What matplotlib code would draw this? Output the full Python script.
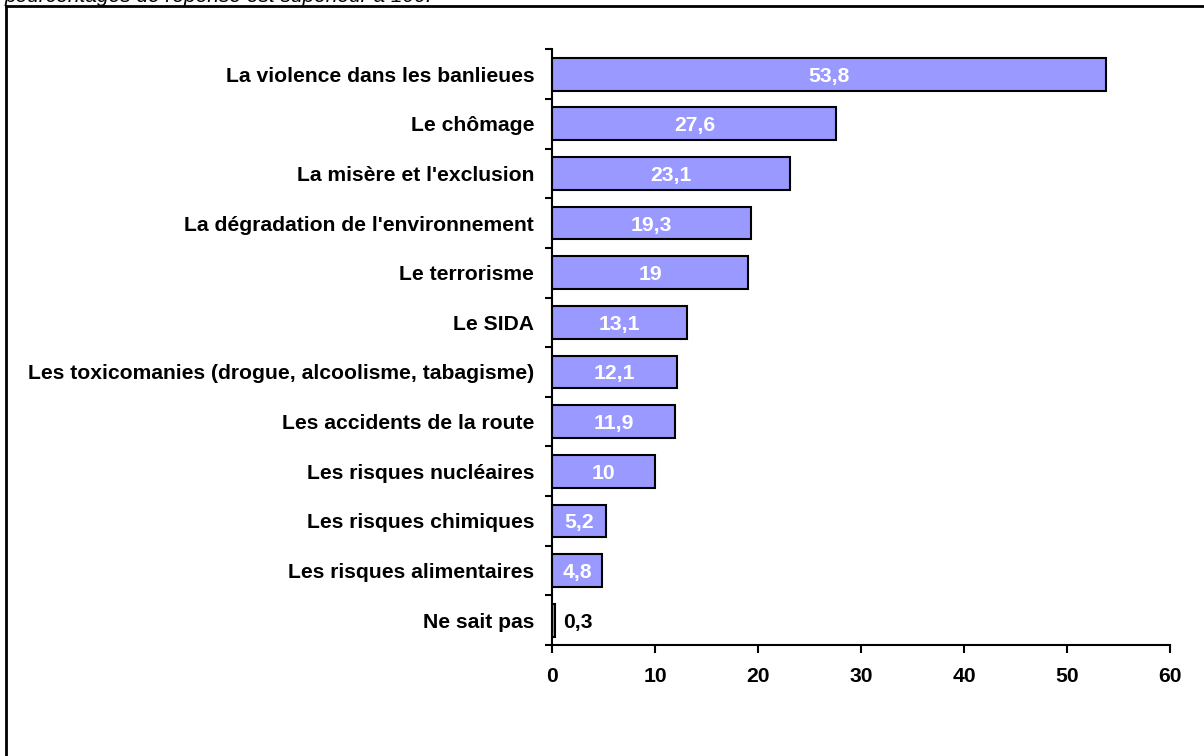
import matplotlib
matplotlib.use("Agg")
import matplotlib.pyplot as plt
from matplotlib.lines import Line2D
import numpy as np

plt.rcParams['font.family'] = ['Liberation Sans', 'DejaVu Sans']

categories = [
    "La violence dans les banlieues",
    "Le chômage",
    "La misère et l'exclusion",
    "La dégradation de l'environnement",
    "Le terrorisme",
    "Le SIDA",
    "Les toxicomanies (drogue, alcoolisme, tabagisme)",
    "Les accidents de la route",
    "Les risques nucléaires",
    "Les risques chimiques",
    "Les risques alimentaires",
    "Ne sait pas",
]
values = [53.8, 27.6, 23.1, 19.3, 19.0, 13.1, 12.1, 11.9, 10.0, 5.2, 4.8, 0.3]
value_labels = ["53,8", "27,6", "23,1", "19,3", "19", "13,1", "12,1", "11,9", "10", "5,2", "4,8", "0,3"]
xticks = [0, 10, 20, 30, 40, 50, 60]

FS = 15.2

fig = plt.figure(figsize=(12.04, 7.56), dpi=100)
ax = fig.add_axes([552.3/1204, 1-645/756, (1170-552.3)/1204, (645-49.3)/756])

y = np.arange(len(categories))
ax.barh(y, values, height=0.66, color='#9999FF', edgecolor='black', linewidth=1.5)
ax.set_ylim(len(categories)-0.5, -0.5)
ax.set_xlim(0, 60)

for yi, v, lab in zip(y, values, value_labels):
    if v > 3:
        ax.text(v/2, yi + 0.04, lab, ha='center', va='center', color='white',
                fontsize=FS, fontweight='bold')
    else:
        ax.text(v + 0.8, yi + 0.04, lab, ha='left', va='center', color='black',
                fontsize=FS, fontweight='bold')

ax.set_yticks(y)
ax.set_yticklabels(categories, fontsize=FS, fontweight='bold')
ax.tick_params(axis='y', which='major', length=0, pad=13)
ax.set_yticks(np.arange(-0.5, len(categories), 1), minor=True)
ax.tick_params(axis='y', which='minor', length=5, width=1.5, direction='out')

ax.set_xticks(xticks)
ax.set_xticklabels([str(t) for t in xticks], fontsize=FS, fontweight='bold')
ax.tick_params(axis='x', which='major', length=5.5, width=1.5, direction='out', pad=10.5)

for s in ['top', 'right']:
    ax.spines[s].set_visible(False)
for s in ['left', 'bottom']:
    ax.spines[s].set_linewidth(1.5)

# frame lines (top and left)
fig.add_artist(Line2D([6/1204, 1.0], [1-6/756, 1-6/756], color='black', linewidth=2.0, transform=fig.transFigure))
fig.add_artist(Line2D([6/1204, 6/1204], [0, 1-6/756], color='black', linewidth=2.0, transform=fig.transFigure))

fig.text(5/1204, 1-2/756, "pourcentages de réponse est supérieur à 100.", fontsize=15,
         style='italic', ha='left', va='baseline')

fig.savefig("out.png", dpi=100)
